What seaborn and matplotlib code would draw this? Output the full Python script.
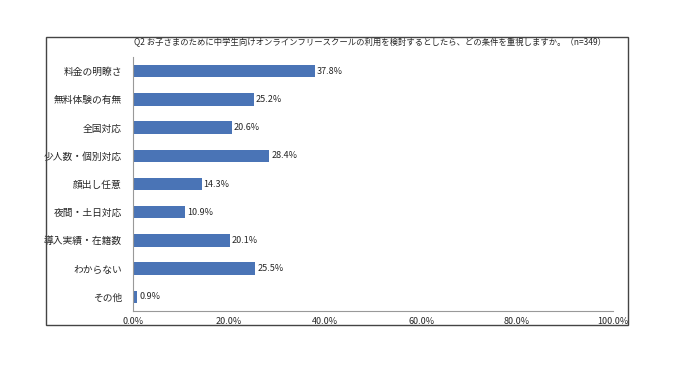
import pandas as pd
import seaborn as sns
import matplotlib.pyplot as plt
from matplotlib.patches import Rectangle
from matplotlib.ticker import FixedLocator, PercentFormatter

categories = ["料金の明瞭さ", "無料体験の有無", "全国対応", "少人数・個別対応", "顔出し任意",
              "夜間・土日対応", "導入実績・在籍数", "わからない", "その他"]
values = [37.8, 25.2, 20.6, 28.4, 14.3, 10.9, 20.1, 25.5, 0.9]
title = "Q2 お子さまのために中学生向けオンラインフリースクールの利用を検討するとしたら、どの条件を重視しますか。（n=349）"

sns.set_style("white")
plt.rcParams['font.family'] = ['Noto Sans CJK JP', 'DejaVu Sans']

df = pd.DataFrame({"cat": categories, "val": values})

fig = plt.figure(figsize=(6.79, 3.68), dpi=100)
ax = fig.add_axes([0.196, 0.155, 0.707, 0.69])

sns.barplot(data=df, y="cat", x="val", orient="h", color="#4A74B6",
            saturation=1, width=0.44, linewidth=0, ax=ax)

for i, v in enumerate(values):
    ax.text(v + 0.4, i, f"{v:.1f}%", va="center", ha="left", fontsize=6.5)

ax.set_xlim(0, 100)
ax.set_xticks([0, 20, 40, 60, 80, 100])
ax.xaxis.set_major_formatter(PercentFormatter(decimals=1))
ax.set_ylim(len(categories) - 0.5, -0.5)
ax.set_xlabel("")
ax.set_ylabel("")
ax.tick_params(axis="x", labelsize=6.5, length=0, pad=4)
ax.tick_params(axis="y", labelsize=7, length=0, pad=8)
ax.yaxis.set_minor_locator(FixedLocator([i - 0.5 for i in range(len(categories) + 1)]))
ax.tick_params(axis="y", which="minor", length=3, color="#888888", direction="out")

for s in ["top", "right"]:
    ax.spines[s].set_visible(False)
for s in ["left", "bottom"]:
    ax.spines[s].set_color("#999999")
    ax.spines[s].set_linewidth(0.8)

# outer chart frame
fig.patches.append(Rectangle((0.0677, 0.117), 0.857, 0.782, transform=fig.transFigure,
                             fill=False, edgecolor="#444444", linewidth=1.0))
fig.text(0.545, 0.884, title, ha="center", va="center", fontsize=6)

fig.savefig("out.png", dpi=100)
